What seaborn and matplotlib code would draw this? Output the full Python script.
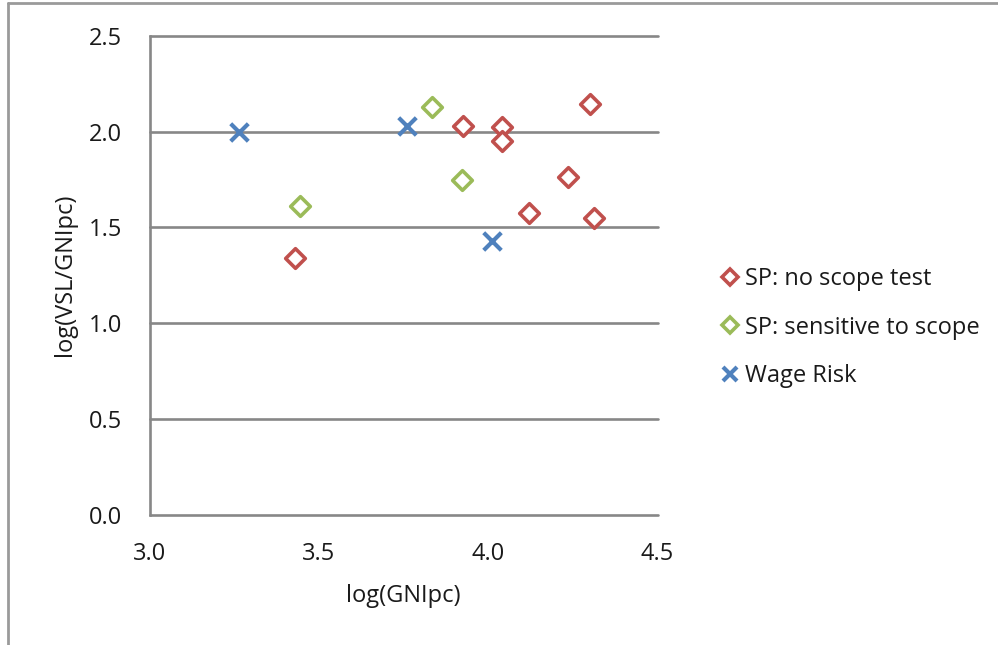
import matplotlib
matplotlib.use("Agg")
import matplotlib.pyplot as plt
import seaborn as sns
import pandas as pd
from matplotlib.lines import Line2D

# Data
no_scope_x = [3.429, 3.926, 4.041, 4.041, 4.300, 4.235, 4.121, 4.312]
no_scope_y = [1.342, 2.031, 2.024, 1.951, 2.144, 1.761, 1.576, 1.547]
sensitive_x = [3.445, 3.835, 3.923]
sensitive_y = [1.611, 2.130, 1.747]
wage_x = [3.264, 3.759, 4.012]
wage_y = [1.996, 2.031, 1.430]
x_ticks = [3.0, 3.5, 4.0, 4.5]
y_ticks = [0.0, 0.5, 1.0, 1.5, 2.0, 2.5]
series_names = ["SP: no scope test", "SP: sensitive to scope", "Wage Risk"]

df = pd.DataFrame({
    "x": no_scope_x + sensitive_x + wage_x,
    "y": no_scope_y + sensitive_y + wage_y,
    "group": [series_names[0]] * len(no_scope_x)
             + [series_names[1]] * len(sensitive_x)
             + [series_names[2]] * len(wage_x),
})

sns.set_theme(style="white")
plt.rcParams["font.family"] = ["Open Sans", "DejaVu Sans"]

colors = {series_names[0]: "#C0504D", series_names[1]: "#9BBB59", series_names[2]: "#4F81BD"}
grid_c = "#878787"
txt_c = "#1a1a1a"
fs = 17

fig = plt.figure(figsize=(9.98, 6.45), dpi=100)
ax = fig.add_axes([0.1499, 0.2022, 0.5090, 0.7423])

for name in series_names[:2]:
    sub = df[df["group"] == name]
    sns.scatterplot(data=sub, x="x", y="y", ax=ax, marker="D", s=100,
                    facecolor="white", edgecolor=colors[name], linewidth=2.6,
                    zorder=3, legend=False)
sub = df[df["group"] == series_names[2]]
sns.scatterplot(data=sub, x="x", y="y", ax=ax, marker="x", s=160,
                color=colors[series_names[2]], linewidth=3.0, zorder=3, legend=False)

ax.set_xlim(3.0, 4.5)
ax.set_ylim(0.0, 2.5)
ax.set_xticks(x_ticks)
ax.set_yticks(y_ticks)
ax.set_xticklabels([f"{t:.1f}" for t in x_ticks])
ax.set_yticklabels([f"{t:.1f}" for t in y_ticks])
ax.tick_params(axis="both", length=0, labelsize=fs, colors=txt_c)
ax.tick_params(axis="x", pad=20)
ax.tick_params(axis="y", pad=20)

for t in y_ticks:
    ax.axhline(t, color=grid_c, lw=1.9, zorder=1, clip_on=False)

for s in ["top", "right", "bottom"]:
    ax.spines[s].set_visible(False)
ax.spines["left"].set_color(grid_c)
ax.spines["left"].set_linewidth(1.9)

ax.set_xlabel("log(GNIpc)", fontsize=fs, color=txt_c, labelpad=13)
ax.set_ylabel("log(VSL/GNIpc)", fontsize=fs, color=txt_c, labelpad=8)

handles = [
    Line2D([], [], ls="none", marker="D", markersize=8, markerfacecolor="white",
           markeredgecolor=colors[series_names[0]], markeredgewidth=2.6),
    Line2D([], [], ls="none", marker="D", markersize=8, markerfacecolor="white",
           markeredgecolor=colors[series_names[1]], markeredgewidth=2.6),
    Line2D([], [], ls="none", marker="x", markersize=10,
           markeredgecolor=colors[series_names[2]], markeredgewidth=3.0),
]
fig.legend(handles, series_names, loc="center left",
           bbox_to_anchor=(0.713, 0.492), frameon=False, fontsize=fs,
           handlelength=0.8, handletextpad=0.2, labelspacing=1.05,
           borderaxespad=0, labelcolor=txt_c)

# outer frame lines (top and left)
fig.add_artist(Line2D([0.008, 1.0], [0.995, 0.995], color="#9a9a9a", lw=2.0,
                      transform=fig.transFigure))
fig.add_artist(Line2D([0.008, 0.008], [0.0, 0.995], color="#9a9a9a", lw=2.0,
                      transform=fig.transFigure))

fig.savefig("out.png", dpi=100)
